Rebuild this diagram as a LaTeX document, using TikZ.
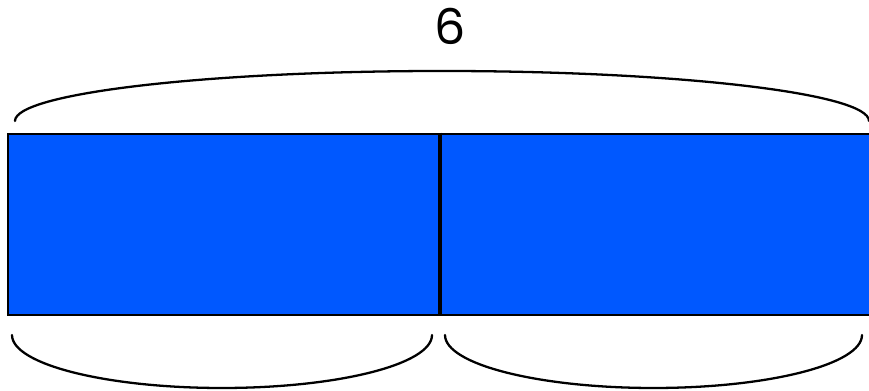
\documentclass[tikz,border=0pt]{standalone}
\usepackage{fontspec}
\newfontfamily\labelfont{Poppins}
\definecolor{barblue}{RGB}{0, 88, 255}
\usepackage{tikz}
\usetikzlibrary{positioning}

\begin{document}
\begin{tikzpicture}[x=0.02cm, y=0.02cm,
		part/.style={rectangle, draw=black, fill=barblue, line width=1.3pt,
			minimum width=8.62cm, minimum height=3.62cm, inner sep=0pt},
		brace/.style={line width=1.3pt, line cap=round}
		]
		\useasboundingbox (0,0) rectangle (869,391);
		\node[part, anchor=south west] (partA) at (7,75) {};
		\node[part, anchor=west] (partB) at (partA.east) {};
		\draw[line width=2pt] (partA.north east) -- (partA.south east);
		
		\node[font=\labelfont\fontsize{28}{30}\selectfont] (total) at (450,365) {6};
		
		\draw[brace] (15,270) arc[start angle=180, end angle=0, x radius=427, y radius=50];
		\draw[brace] (12,56) arc[start angle=180, end angle=360, x radius=210, y radius=53];
		\draw[brace] (445,56) arc[start angle=180, end angle=360, x radius=208.5, y radius=53];
	\end{tikzpicture}
\end{document}
